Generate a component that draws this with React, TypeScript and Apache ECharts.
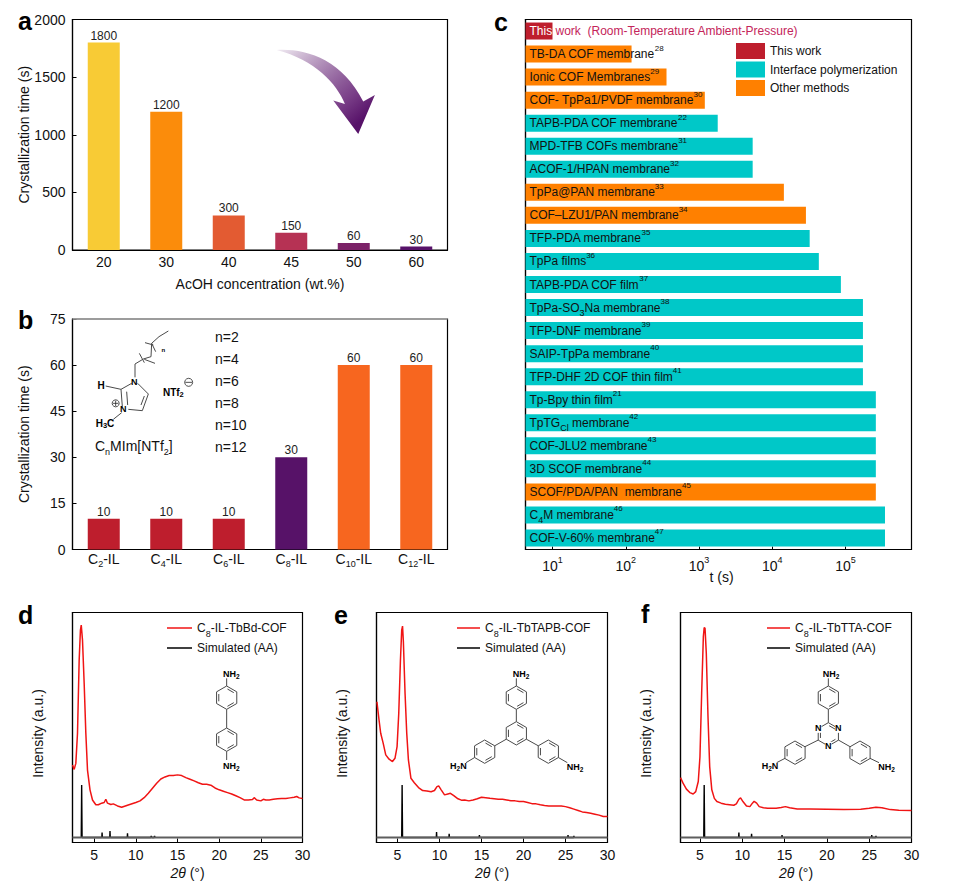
import React, { useEffect, useRef } from "react";
import * as echarts from "echarts";

const FONT = "Liberation Sans";

// Panel a
const acidCategories = ["20", "30", "40", "45", "50", "60"];
const acidTimes = [1800, 1200, 300, 150, 60, 30];
const acidColors = ["#F8CB35", "#FB8C0B", "#E35B32", "#B63254", "#7C2268", "#571269"];

// Panel b
const ilCategories = ["C{sub|2}-IL", "C{sub|4}-IL", "C{sub|6}-IL", "C{sub|8}-IL", "C{sub|10}-IL", "C{sub|12}-IL"];
const ilTimes = [10, 10, 10, 30, 60, 60];
const ilColors = ["#BE1E2D", "#BE1E2D", "#BE1E2D", "#571268", "#F7661F", "#F7661F"];
const nLabels = ["n=2", "n=4", "n=6", "n=8", "n=10", "n=12"];

// Panel c
const cNames = [
  "This work",
  "TB-DA COF membrane{sup|28}",
  "Ionic COF Membranes{sup|29}",
  "COF- TpPa1/PVDF membrane{sup|30}",
  "TAPB-PDA COF membrane{sup|22}",
  "MPD-TFB COFs membrane{sup|31}",
  "ACOF-1/HPAN membrane{sup|32}",
  "TpPa@PAN membrane{sup|33}",
  "COF\u2013LZU1/PAN membrane{sup|34}",
  "TFP-PDA membrane{sup|35}",
  "TpPa films{sup|36}",
  "TAPB-PDA COF film{sup|37}",
  "TpPa-SO{sub|3}Na membrane{sup|38}",
  "TFP-DNF membrane{sup|39}",
  "SAIP-TpPa membrane{sup|40}",
  "TFP-DHF 2D COF thin film{sup|41}",
  "Tp-Bpy thin film{sup|21}",
  "TpTG{sub|Cl} membrane{sup|42}",
  "COF-JLU2 membrane{sup|43}",
  "3D SCOF membrane{sup|44}",
  "SCOF/PDA/PAN  membrane{sup|45}",
  "C{sub|4}M membrane{sup|46}",
  "COF-V-60% membrane{sup|47}",
];
const cTimes = [10, 120, 360, 1200, 1800, 5400, 5400, 14400, 28800, 32400, 43200, 86400, 172800, 172800, 172800, 172800, 259200, 259200, 259200, 259200, 259200, 345600, 345600];
const cMethods = ["T", "O", "O", "O", "I", "I", "I", "O", "O", "I", "I", "I", "I", "I", "I", "I", "I", "I", "I", "I", "O", "I", "I"];
const logTicks = [10, 100, 1000, 10000, 100000];

// Panels d, e, f
const thetaTicks = [5, 10, 15, 20, 25, 30];

const dTheta = [2.4, 2.6, 2.8, 3.0, 3.2, 3.35, 3.45, 3.6, 3.8, 4.0, 4.2, 4.5, 4.8, 5.2, 5.5, 5.9, 6.2, 6.4, 6.6, 7.0, 7.3, 7.8, 8.3, 9, 10, 10.5, 11, 11.5, 12, 12.5, 13, 13.5, 14, 14.5, 15, 15.5, 16, 16.5, 17, 17.5, 18, 18.5, 19, 19.5, 20, 20.5, 21, 21.5, 22, 22.5, 23, 23.5, 24, 24.2, 24.5, 25, 25.3, 25.6, 26, 26.5, 27, 27.5, 28, 28.5, 29, 29.3, 29.6, 30];
const dIntensity = [33.7, 31.8, 34.4, 47.5, 79.3, 92.3, 94.5, 88, 69.2, 47.5, 31.5, 22.9, 18.5, 16.4, 16.4, 17.1, 17.4, 18.8, 17.1, 16.5, 16.8, 15.9, 15.3, 16.2, 17.4, 18.1, 19.5, 21.4, 23.6, 25.8, 27.6, 28.5, 29.1, 29.1, 29.4, 29.1, 28.2, 27.5, 26.8, 26, 25.3, 25.3, 24.9, 23.7, 22.9, 22.3, 21.7, 21.1, 20.3, 19.5, 18.5, 18.5, 18.7, 19.5, 18.5, 18.1, 18.8, 18.5, 18.5, 18.8, 19, 19.1, 19.1, 19.4, 19.7, 20, 19.4, 19.1];
const dSimTheta = [3.45, 3.5, 3.55, 5.92, 5.95, 5.98, 6.87, 6.9, 6.93, 8.97, 9, 9.03, 11.8, 11.85, 11.9, 12.2, 12.25, 12.3];
const dSimPeak = [2.2, 25, 2.2, 2.2, 4.3, 2.2, 2.2, 5, 2.2, 2.2, 4, 2.2, 2.2, 2.9, 2.2, 2.2, 2.8, 2.2];

const eTheta = [2.55, 2.8, 3.0, 3.3, 3.6, 4.0, 4.4, 4.7, 4.95, 5.15, 5.35, 5.5, 5.6, 5.7, 5.9, 6.1, 6.3, 6.6, 7, 7.5, 8, 8.5, 9, 9.4, 9.7, 9.9, 10.2, 10.6, 11, 11.3, 11.7, 12.2, 12.6, 13, 13.5, 14, 14.5, 15, 15.5, 16, 16.5, 17, 17.5, 18, 18.5, 19, 19.5, 20, 20.5, 21, 21.5, 22, 22.5, 23, 23.5, 24, 24.5, 25, 25.5, 26, 26.5, 27, 27.5, 28, 28.5, 29, 29.5, 30];
const eIntensity = [61.2, 53.3, 47.5, 43.1, 38.1, 36.2, 35.2, 36.6, 41.7, 56.2, 79.3, 92.3, 94.1, 87.3, 64.8, 47.5, 35.9, 27.9, 26, 23.9, 22.6, 22.4, 22.1, 22.6, 24.3, 24.6, 22.9, 20.7, 21.1, 21.4, 20.4, 19, 18.4, 18.5, 18.1, 18.5, 19, 19.7, 19.5, 19.2, 19, 18.8, 18.8, 18.5, 18.2, 18.1, 17.8, 17.8, 17.4, 16.9, 16.8, 16.4, 16.1, 15.9, 15.9, 15.9, 15.9, 15.6, 15.1, 14.5, 13.9, 13.3, 13, 12.7, 12.3, 11.9, 11.3, 11.3];
const eSimTheta = [5.5, 5.55, 5.6, 9.62, 9.65, 9.68, 11.12, 11.15, 11.18, 14.72, 14.75, 14.78, 25.27, 25.3, 25.33, 25.97, 26, 26.03];
const eSimPeak = [2.2, 25, 2.2, 2.2, 4.5, 2.2, 2.2, 3.8, 2.2, 2.2, 3.2, 2.2, 2.2, 3.2, 2.2, 2.2, 2.9, 2.2];

const fTheta = [2.7, 3, 3.4, 3.8, 4.2, 4.5, 4.8, 5.0, 5.2, 5.4, 5.5, 5.6, 5.75, 5.95, 6.15, 6.4, 6.7, 7, 7.5, 8, 8.5, 9, 9.3, 9.6, 9.8, 10.1, 10.5, 10.9, 11.2, 11.4, 11.7, 12, 12.5, 13, 14, 14.6, 15.1, 15.6, 16.5, 18, 20, 22, 24, 25, 25.8, 26.5, 27.5, 28.5, 30];
const fIntensity = [28.2, 25.8, 23.2, 21.7, 21.1, 22.1, 26.5, 37.3, 64.8, 89.4, 93.5, 93.1, 82.2, 54.7, 33, 22.9, 19.2, 17.8, 17.1, 16.6, 16.4, 16.2, 16.8, 18.8, 19.4, 17.7, 15.9, 15.6, 17.1, 17.9, 17.1, 15.6, 15.1, 14.9, 14.9, 15.2, 15.6, 15.1, 14.6, 14.6, 14.5, 14.3, 14.5, 14.9, 15.3, 15.1, 14.3, 14, 13.9];
const fSimTheta = [5.45, 5.5, 5.55, 9.57, 9.6, 9.63, 11.07, 11.1, 11.13, 14.67, 14.7, 14.73, 25.27, 25.3, 25.33, 25.77, 25.8, 25.83];
const fSimPeak = [2.2, 25, 2.2, 2.2, 4.3, 2.2, 2.2, 3.8, 2.2, 2.2, 3.2, 2.2, 2.2, 3.2, 2.2, 2.2, 2.9, 2.2];

const baselineLevel = 2.2;

const ARROW_D = "M35 30C120 25 230 55 295 185L330 165L280 282L205 182L240 192C215 130 150 60 35 30Z";
echarts.graphic.registerShape("bendArrow", echarts.graphic.extendPath(ARROW_D, {}) as any);

const BOND = "#4a4a4a";
const seg = (ox: number, oy: number, pts: number[][], w = 1, c = BOND) => ({
  type: "polyline",
  silent: true,
  z: 10,
  shape: { points: pts.map(([x, y]) => [ox + x / 3, oy + y / 3]) },
  style: { stroke: c, lineWidth: w, fill: "none" },
});
const molText = (ox: number, oy: number, x: number, y: number, text: string, size = 9, weight = "bold", bg?: string) => ({
  type: "text",
  silent: true,
  z: 11,
  x: ox + x / 3,
  y: oy + y / 3,
  style: {
    text,
    fontFamily: FONT,
    fontSize: size,
    fontWeight: weight,
    fill: "#000",
    align: "center",
    verticalAlign: "middle",
    backgroundColor: bg,
    rich: { s: { fontFamily: FONT, fontSize: size - 2.5, fontWeight: weight, fill: "#000", verticalAlign: "bottom", lineHeight: size } , b: { fontFamily: FONT, fontSize: size, fontWeight: weight, fill: "#000", lineHeight: size + 3 } },
  },
});
const ring = (ox: number, oy: number, cx: number, cy: number, r = 35, flip = 0) => {
  const v = (k: number, rad: number) => {
    const a = (-90 + 60 * k) * (Math.PI / 180);
    return [cx + rad * Math.cos(a), cy + rad * Math.sin(a)];
  };
  const out: any[] = [seg(ox, oy, [0, 1, 2, 3, 4, 5, 6].map((k) => v(k, r)))];
  [0, 2, 4].forEach((k) => {
    const a = v(k + flip, r * 0.78);
    const b = v(k + flip + 1, r * 0.78);
    const m = [(a[0] + b[0]) / 2, (a[1] + b[1]) / 2];
    out.push(seg(ox, oy, [[m[0] + (a[0] - m[0]) * 0.8, m[1] + (a[1] - m[1]) * 0.8], [m[0] + (b[0] - m[0]) * 0.8, m[1] + (b[1] - m[1]) * 0.8]]));
  });
  return out;
};

const panelLetter = (text: string, x: number, y: number) => ({
  type: "text",
  x,
  y,
  z: 12,
  style: { text, fontFamily: FONT, fontSize: 25, fontWeight: "bold", fill: "#000", verticalAlign: "middle" },
});

function molecules() {
  const E: any[] = [];
  // panel b imidazolium
  const bx = 85, by = 320;
  E.push(seg(bx, by, [[150, 172], [150, 132], [175, 117], [198, 110], [200, 70], [222, 50], [250, 33]]));
  E.push(seg(bx, by, [[163, 100], [178, 128]]), seg(bx, by, [[178, 118], [210, 130]]), seg(bx, by, [[180, 68], [205, 75]]), seg(bx, by, [[200, 70], [212, 95]]));
  E.push(seg(bx, by, [[140, 190], [108, 208], [112, 260]]), seg(bx, by, [[125, 215], [128, 255]]), seg(bx, by, [[130, 268], [172, 272], [190, 222], [158, 190]]), seg(bx, by, [[168, 255], [178, 228]]));
  E.push(seg(bx, by, [[108, 208], [62, 198]]), seg(bx, by, [[110, 278], [85, 298]]));
  E.push(molText(bx, by, 148, 185, "N"), molText(bx, by, 115, 268, "N"), molText(bx, by, 48, 197, "H", 10), molText(bx, by, 60, 310, "{b|H}{s|3}{b|C}", 10));
  E.push(molText(bx, by, 235, 90, "n", 6), molText(bx, by, 265, 217, "{b|NTf}{s|2}", 10));
  E.push({ type: "circle", silent: true, z: 10, shape: { cx: bx + 92 / 3, cy: by + 250 / 3, r: 3.5 }, style: { fill: "none", stroke: "#222", lineWidth: 0.8 } });
  E.push(seg(bx, by, [[84, 250], [100, 250]], 0.8, "#222"), seg(bx, by, [[92, 242], [92, 258]], 0.8, "#222"));
  E.push({ type: "circle", silent: true, z: 10, shape: { cx: bx + 311 / 3, cy: by + 187 / 3, r: 4 }, style: { fill: "none", stroke: "#222", lineWidth: 0.8 } });
  E.push(seg(bx, by, [[301, 187], [321, 187]], 0.8, "#222"));
  // panel d benzidine
  const dx = 0, dy = 600;
  E.push(...ring(dx, dy, 680, 293), ...ring(dx, dy, 680, 419));
  E.push(seg(dx, dy, [[680, 235], [680, 258]]), seg(dx, dy, [[680, 328], [680, 384]]), seg(dx, dy, [[680, 454], [680, 480]]));
  E.push(molText(dx, dy, 694, 222, "{b|NH}{s|2}"), molText(dx, dy, 694, 497, "{b|NH}{s|2}"));
  // panel e TAPB
  const ex = 320, ey = 600;
  E.push(...ring(ex, ey, 589, 293), ...ring(ex, ey, 589, 400), ...ring(ex, ey, 494, 455), ...ring(ex, ey, 685, 455));
  E.push(seg(ex, ey, [[589, 235], [589, 258]]), seg(ex, ey, [[589, 328], [589, 365]]), seg(ex, ey, [[559, 417.5], [524, 437.5]]), seg(ex, ey, [[619, 417.5], [655, 437.5]]), seg(ex, ey, [[464, 472.5], [438, 488]]), seg(ex, ey, [[715, 472.5], [742, 488]]));
  E.push(molText(ex, ey, 603, 222, "{b|NH}{s|2}"), molText(ex, ey, 415, 498, "{b|H}{s|2}{b|N}"), molText(ex, ey, 765, 500, "{b|NH}{s|2}"));
  // panel f TAPT
  const fx = 630, fy = 600;
  E.push(...ring(fx, fy, 595, 293), ...ring(fx, fy, 595, 403), ...ring(fx, fy, 495, 458), ...ring(fx, fy, 690, 458));
  E.push(seg(fx, fy, [[595, 235], [595, 258]]), seg(fx, fy, [[595, 328], [595, 368]]), seg(fx, fy, [[565, 420], [525, 440]]), seg(fx, fy, [[625, 420], [660, 440]]), seg(fx, fy, [[465, 475], [440, 488]]), seg(fx, fy, [[720, 475], [747, 488]]));
  E.push(molText(fx, fy, 565, 385, "N", 9, "bold", "#fff"), molText(fx, fy, 625, 385, "N", 9, "bold", "#fff"), molText(fx, fy, 595, 438, "N", 9, "bold", "#fff"));
  E.push(molText(fx, fy, 603, 222, "{b|NH}{s|2}"), molText(fx, fy, 420, 498, "{b|H}{s|2}{b|N}"), molText(fx, fy, 770, 500, "{b|NH}{s|2}"));
  return E;
}

const tickText = { fontFamily: FONT, fontSize: 14, color: "#111" };
const titleText = { fontFamily: FONT, fontSize: 14, color: "#111" };
const axisLine = { show: true, lineStyle: { color: "#000", width: 1.2 } };
const frame = { show: true, borderColor: "#000", borderWidth: 1.2, backgroundColor: "transparent" };
const barRich = {
  sub: { fontFamily: FONT, fontSize: 9, color: "#111", verticalAlign: "bottom", lineHeight: 13 },
  sup: { fontFamily: FONT, fontSize: 8, color: "#111", verticalAlign: "top", lineHeight: 12 },
};

const zip = (xs: number[], ys: number[]) => xs.map((x, i) => [x, ys[i]]);

function xrdAxes(idx: number, min: number) {
  return {
    x: {
      gridIndex: idx,
      type: "value",
      min,
      max: 30,
      axisLine,
      splitLine: { show: false },
      axisTick: { show: true, inside: true, length: 4, customValues: thetaTicks, lineStyle: { color: "#000" } },
      axisLabel: { ...tickText, margin: 5, customValues: thetaTicks },
      name: "{i|2\u03B8} (\u00B0)",
      nameLocation: "middle",
      nameGap: 23,
      nameTextStyle: { ...titleText, rich: { i: { fontFamily: FONT, fontSize: 14, fontStyle: "italic", color: "#111" } } },
    },
    y: {
      gridIndex: idx,
      type: "value",
      min: 0,
      max: 100,
      axisLine,
      splitLine: { show: false },
      axisTick: { show: false },
      axisLabel: { show: false },
      name: "Intensity (a.u.)",
      nameLocation: "middle",
      nameGap: 28,
      nameMoveOverlap: false,
      nameTextStyle: { ...titleText, padding: [0, 12, 0, 0] },
    },
  };
}

function xrdSeries(idx: number, name: string, xs: number[], ys: number[], sx: number[], sy: number[], min: number) {
  const common = { type: "line", xAxisIndex: idx, yAxisIndex: idx, symbol: "none", showSymbol: false, silent: true };
  return [
    { ...common, name: "Simulated (AA)", data: zip(sx, sy), itemStyle: { color: "#000" }, lineStyle: { color: "#000", width: 1.4 }, z: 2 },
    { ...common, name: "baseline" + idx, data: [[min, baselineLevel], [30, baselineLevel]], itemStyle: { color: "#5e5e5e" }, lineStyle: { color: "#5e5e5e", width: 2 }, z: 3 },
    { ...common, name, data: zip(xs, ys), itemStyle: { color: "#F01414" }, lineStyle: { color: "#F01414", width: 1.5 }, z: 4 },
  ];
}

function xrdLegend(name: string, left: number, top: number, itemWidth: number) {
  return {
    show: true,
    orient: "vertical",
    left,
    top,
    padding: 0,
    icon: "rect",
    itemWidth,
    itemHeight: 1.5,
    itemGap: 0,
    data: [name, "Simulated (AA)"],
    selectedMode: false,
    formatter: (n: string) => n.replace("C8", "C{sub|8}"),
    textStyle: { fontFamily: FONT, fontSize: 12, color: "#111", lineHeight: 20, rich: { sub: barRich.sub } },
  };
}

function buildOption() {
  const methodSeries = [
    ["T", "This work", "#BE1E2D"],
    ["I", "Interface polymerization", "#00C8C8"],
    ["O", "Other methods", "#FF8000"],
  ].map(([code, name, color]) => ({
    type: "bar",
    name,
    xAxisIndex: 2,
    yAxisIndex: 2,
    barWidth: 17,
    barGap: "-100%",
    silent: true,
    itemStyle: { color },
    data: cTimes.map((v, i) => (cMethods[i] === code ? v : null)),
    z: 3,
    label: {
      show: true,
      position: "insideLeft",
      distance: 4,
      fontFamily: FONT,
      fontSize: 12,
      color: "#111",
      lineHeight: 20,
      rich: {
        ...barRich,
        w: { fontFamily: FONT, fontSize: 12, color: "#fff", lineHeight: 20 },
        p: { fontFamily: FONT, fontSize: 12, color: "#C4245A", lineHeight: 20 },
      },
      formatter: (p: any) =>
        p.dataIndex === 0 ? "{w|This}{p| work  (Room-Temperature Ambient-Pressure)}" : cNames[p.dataIndex],
    },
  }));

  const xrdD = xrdAxes(3, 2.4);
  const xrdE = xrdAxes(4, 2.5);
  const xrdF = xrdAxes(5, 2.7);

  const categoryX = (idx: number, data: string[], name?: string) => ({
    gridIndex: idx,
    type: "category",
    data,
    axisLine,
    axisTick: { show: false },
    axisLabel: { ...tickText, interval: 0, margin: idx === 1 ? -1 : 2, lineHeight: 20, rich: { sub: { ...barRich.sub, fontSize: 9 } } },
    name,
    nameLocation: "middle",
    nameGap: 27,
    nameTextStyle: titleText,
  });
  const valueY = (idx: number, max: number, interval: number) => ({
    gridIndex: idx,
    type: "value",
    min: 0,
    max,
    interval,
    axisLine,
    splitLine: { show: false },
    axisTick: { show: true, inside: true, length: 4, lineStyle: { color: "#000" } },
    axisLabel: { ...tickText, margin: 7, formatter: (v: number) => String(v) },
    name: "Crystallization time (s)",
    nameLocation: "middle",
    nameGap: 42,
    nameMoveOverlap: false,
    nameTextStyle: titleText,
  });
  const valueLabel = { show: true, position: "top", distance: 1, fontFamily: FONT, fontSize: 12, color: "#222" };

  return {
    animation: false,
    textStyle: { fontFamily: FONT },
    grid: [
      { left: 72.5, top: 19.5, width: 375, height: 230.5, ...frame },
      { left: 72.5, top: 319, width: 375, height: 230.5, ...frame },
      { left: 525.5, top: 19.5, width: 386, height: 530, ...frame },
      { left: 72.5, top: 612.5, width: 230, height: 230, ...frame },
      { left: 376.5, top: 612.5, width: 231, height: 230, ...frame },
      { left: 680.5, top: 612.5, width: 231, height: 230, ...frame },
    ],
    xAxis: [
      categoryX(0, acidCategories, "AcOH concentration (wt.%)"),
      categoryX(1, ilCategories),
      {
        gridIndex: 2,
        type: "log",
        logBase: 10,
        min: 4.28,
        max: 795000,
        axisLine,
        splitLine: { show: false },
        minorTick: { show: false },
        axisTick: { show: true, inside: true, length: 3, customValues: logTicks, lineStyle: { color: "#000" } },
        axisLabel: {
          ...tickText,
          margin: 6,
          lineHeight: 20,
          customValues: logTicks,
          formatter: (v: number) => `10{sup|${Math.round(Math.log10(v))}}`,
          rich: { sup: { ...barRich.sup, fontSize: 9 } },
        },
        name: "t (s)",
        nameLocation: "middle",
        nameGap: 20,
        nameMoveOverlap: false,
        nameTextStyle: { ...titleText, padding: [0, 0, 0, 6] },
      },
      xrdD.x,
      xrdE.x,
      xrdF.x,
    ],
    yAxis: [
      valueY(0, 2000, 500),
      valueY(1, 75, 15),
      { gridIndex: 2, type: "category", inverse: true, data: cNames, axisLine, axisTick: { show: false }, axisLabel: { show: false } },
      xrdD.y,
      xrdE.y,
      xrdF.y,
    ],
    legend: [
      {
        show: true,
        orient: "vertical",
        left: 736,
        top: 43,
        padding: 0,
        icon: "rect",
        itemWidth: 29,
        itemHeight: 16,
        itemGap: 2.5,
        selectedMode: false,
        data: ["This work", "Interface polymerization", "Other methods"],
        textStyle: { fontFamily: FONT, fontSize: 12, color: "#111" },
      },
      xrdLegend("C8-IL-TbBd-COF", 167, 618, 25),
      xrdLegend("C8-IL-TbTAPB-COF", 457, 618, 23),
      xrdLegend("C8-IL-TbTTA-COF", 767, 618, 23),
    ],
    series: [
      {
        type: "bar",
        name: "AcOH",
        xAxisIndex: 0,
        yAxisIndex: 0,
        barWidth: 32,
        silent: true,
        data: acidTimes.map((value, i) => ({ value, itemStyle: { color: acidColors[i] } })),
        label: valueLabel,
      },
      {
        type: "bar",
        name: "IL",
        xAxisIndex: 1,
        yAxisIndex: 1,
        barWidth: 32,
        silent: true,
        data: ilTimes.map((value, i) => ({ value, itemStyle: { color: ilColors[i] } })),
        label: valueLabel,
      },
      ...methodSeries,
      ...xrdSeries(3, "C8-IL-TbBd-COF", dTheta, dIntensity, dSimTheta, dSimPeak, 2.4),
      ...xrdSeries(4, "C8-IL-TbTAPB-COF", eTheta, eIntensity, eSimTheta, eSimPeak, 2.5),
      ...xrdSeries(5, "C8-IL-TbTTA-COF", fTheta, fIntensity, fSimTheta, fSimPeak, 2.7),
    ],
    graphic: {
      elements: [
        panelLetter("a", 18, 21),
        panelLetter("b", 18, 320),
        panelLetter("c", 494, 22),
        panelLetter("d", 18, 615),
        panelLetter("e", 334, 615),
        panelLetter("f", 641, 614),
        {
          type: "bendArrow",
          x: 265,
          y: 40,
          scaleX: 1 / 3,
          scaleY: 1 / 3,
          z: 10,
          silent: true,
          style: {
            fill: new echarts.graphic.LinearGradient(0, 0, 1, 1, [
              { offset: 0, color: "rgba(87,18,105,0.08)" },
              { offset: 0.65, color: "#7a3f88" },
              { offset: 0.85, color: "#571269" },
              { offset: 1, color: "#571269" },
            ]),
          },
        },
        { type: "line", z: 10, silent: true, shape: { x1: 72.5, y1: 319, x2: 447.5, y2: 319 }, style: { stroke: "#a6a6a6", lineWidth: 1.5 } },
        ...nLabels.map((text, i) => ({
          type: "text",
          x: 215,
          y: 337 + i * 21.9,
          z: 11,
          silent: true,
          style: { text, fontFamily: FONT, fontSize: 14, fill: "#111", verticalAlign: "middle" },
        })),
        {
          type: "text",
          x: 95,
          y: 446,
          z: 11,
          silent: true,
          style: {
            text: "{t|C}{u|n}{t|MIm[NTf}{u|2}{t|]}",
            fontFamily: FONT,
            fontSize: 14,
            fill: "#111",
            verticalAlign: "middle",
            rich: {
              t: { fontFamily: FONT, fontSize: 14, fill: "#111", lineHeight: 20 },
              u: { fontFamily: FONT, fontSize: 9, fill: "#111", verticalAlign: "bottom", lineHeight: 13 },
            },
          },
        },
        ...molecules(),
      ],
    },
  };
}

export default function App() {
  const ref = useRef<HTMLDivElement>(null);
  useEffect(() => {
    if (!ref.current) return;
    const chart = echarts.init(ref.current, undefined, { renderer: "svg" });
    chart.setOption(buildOption() as any);
    return () => chart.dispose();
  }, []);
  return <div ref={ref} style={{ position: "absolute", left: 0, top: 0, width: 960, height: 895, background: "#fff" }} />;
}
